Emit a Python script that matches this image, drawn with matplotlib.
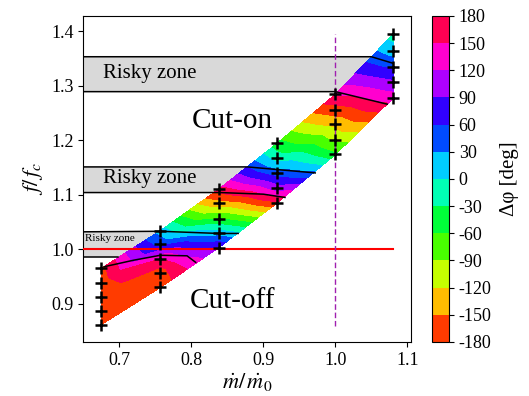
import numpy as np
import matplotlib
matplotlib.use("Agg")
import matplotlib.pyplot as plt
from matplotlib.colors import ListedColormap, BoundaryNorm
from matplotlib.cm import ScalarMappable

plt.rcParams['font.family'] = ['Liberation Serif', 'DejaVu Serif']
plt.rcParams['mathtext.fontset'] = 'stix'
plt.rcParams['axes.unicode_minus'] = False

# --- measured operating points (columns of constant mass flow) ---
mdot = [0.675, 0.757, 0.838, 0.919, 1.0, 1.080]
freq = [
    [0.862, 0.887, 0.913, 0.939, 0.965],
    [0.930, 0.956, 0.982, 1.009, 1.034],
    [1.003, 1.030, 1.056, 1.084, 1.110],
    [1.085, 1.113, 1.139, 1.167, 1.194],
    [1.174, 1.201, 1.229, 1.256, 1.284],
    [1.277, 1.306, 1.334, 1.363, 1.394],
]
# phase difference (deg, unwrapped)
phase = [
    [195, 195, 195, 195, 190],
    [200, 195, 150, 50, 15],
    [90, 15, -60, -140, -200],
    [-180, -260, -315, -375, -410],
    [-415, -460, -490, -530, -575],
    [-585, -625, -665, -705, -735],
]

# risky zones (f/fc bounds)
risky_lo = [0.985, 1.104, 1.289]
risky_hi = [1.032, 1.151, 1.353]
risky_xend = [0.757, 0.919, 1.080]
risky_text_y = [1.019, 1.129, 1.322]
risky_text_size = [8, 15, 15]

# boundary lines of the risky zones continuing inside the map
lines_x = [
    [0.65, 0.698],
    [0.679, 0.72, 0.757, 0.794, 0.806],
    [0.65, 0.757, 0.838, 0.865],
    [0.65, 0.84, 0.90, 0.93],
    [0.65, 0.878, 0.972],
    [0.65, 1.0, 1.072],
    [0.65, 1.05, 1.080],
]
lines_y = [
    [0.985, 0.985],
    [0.968, 0.980, 0.989, 0.988, 0.976],
    [1.032, 1.033, 1.029, 1.029],
    [1.104, 1.104, 1.101, 1.095],
    [1.151, 1.151, 1.140],
    [1.289, 1.289, 1.266],
    [1.353, 1.353, 1.341],
]

X = np.array(mdot)[:, None] * np.ones((1, 5))
Y = np.array(freq)
Z = np.array(phase, dtype=float)

# cyclic colours: 12 bins of 30 deg over hsv
levels = np.arange(-780, 241, 30)
fill_colors = [plt.cm.hsv((((lv + 180) % 360) + 15) / 360.0) for lv in levels[:-1]]

fig = plt.figure(figsize=(5.29, 3.96), dpi=100)
ax = fig.add_axes([0.1575, 0.1364, 0.6195, 0.8236])
cax = fig.add_axes([0.816, 0.1364, 0.0327, 0.8236])

for lo, hi, xe in zip(risky_lo, risky_hi, risky_xend):
    ax.fill_between([0.65, xe], lo, hi, color='#d9d9d9', lw=0, zorder=1)

ax.contourf(X, Y, Z, levels=levels, colors=fill_colors, zorder=2)

for lx, ly in zip(lines_x, lines_y):
    ax.plot(lx, ly, color='black', lw=1.1, zorder=3)

ax.plot([0.65, 1.08], [1.0, 1.0], color='red', lw=1.5, zorder=3)
ax.plot([1.0, 1.0], [0.86, 1.394], color='#a020b0', lw=1.0,
        ls=(0, (4, 2)), zorder=3)

ax.plot(X.ravel(), Y.ravel(), '+', color='black', ms=9, mew=1.8, zorder=4)

for ty, ts in zip(risky_text_y, risky_text_size):
    ax.text(0.677 if ts > 10 else 0.652, ty, 'Risky zone', fontsize=ts,
            va='center', ha='left', zorder=5)
ax.text(0.857, 1.235, 'Cut-on', fontsize=21, ha='center', va='center', zorder=5)
ax.text(0.857, 0.905, 'Cut-off', fontsize=21, ha='center', va='center', zorder=5)

ax.set_xlim(0.65, 1.105)
ax.set_ylim(0.83, 1.428)
ax.set_xticks([0.7, 0.8, 0.9, 1.0, 1.1])
ax.set_yticks([0.9, 1.0, 1.1, 1.2, 1.3, 1.4])
ax.tick_params(labelsize=13, direction='out')
ax.set_xlabel(r'$\dot{m}/\,\dot{m}_0$', fontsize=16, labelpad=2)
ax.set_ylabel(r'$f/\,f_c$', fontsize=16, labelpad=4)

# colour bar
bar_bounds = np.arange(-180, 181, 30)
bar_cmap = ListedColormap([plt.cm.hsv((i + 0.5) / 12) for i in range(12)])
sm = ScalarMappable(norm=BoundaryNorm(bar_bounds, 12), cmap=bar_cmap)
cb = fig.colorbar(sm, cax=cax, ticks=bar_bounds)
cb.ax.tick_params(labelsize=13)
cb.set_label('Δφ [deg]', fontsize=15, labelpad=6)

fig.savefig('out.png', dpi=100)
